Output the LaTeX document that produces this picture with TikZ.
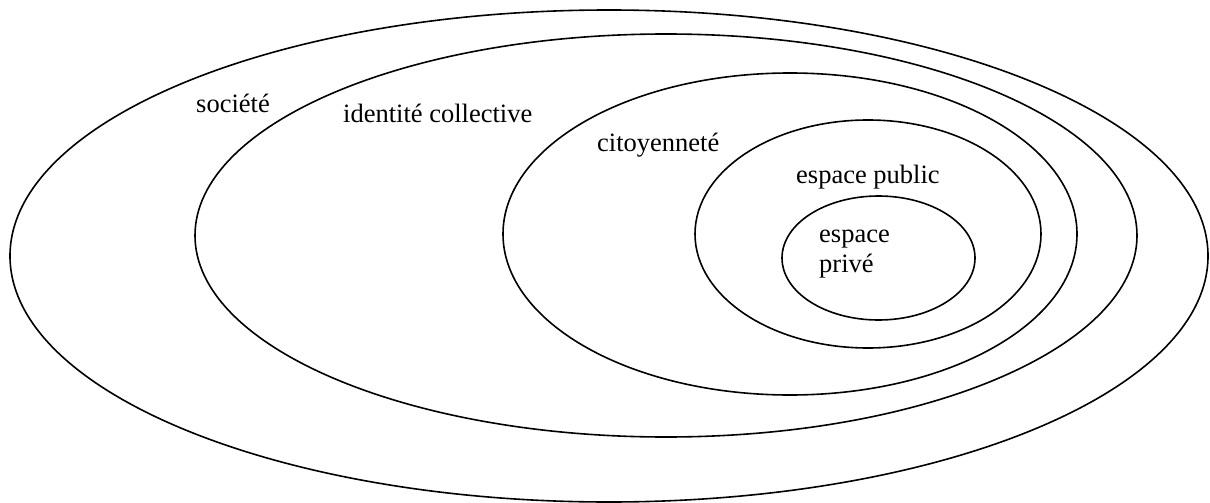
\documentclass[tikz,border=0pt]{standalone}
\usepackage{fontspec}
\setmainfont{Liberation Serif}
\tikzset{ring/.style={draw, line width=1.6pt},
  lbl/.style={anchor=base west, inner sep=0pt, font=\fontsize{26.5}{30}\selectfont}}

\begin{document}
\begin{tikzpicture}[x=1pt, y=-1pt]
    \useasboundingbox (0,0) rectangle (1210,503);

    \draw[ring] (609, 256) ellipse [x radius=599, y radius=246];
    \draw[ring] (666, 235.5) ellipse [x radius=471, y radius=201.5];
    \draw[ring] (790, 234) ellipse [x radius=287, y radius=161];
    \draw[ring] (868, 234) ellipse [x radius=173, y radius=114];
    \draw[ring] (878.5, 258) ellipse [x radius=96.5, y radius=62];

    \node at (196, 112) (societe) [lbl] {société};
    \node at (343, 122) (identite) [lbl] {identité collective};
    \node at (597, 151) (citoyen) [lbl] {citoyenneté};
    \node at (796, 183) (public) [lbl] {espace public};
    \node at (819, 242) (prive) [lbl] {espace};
    \node at (819, 272) (prive2) [lbl] {privé};
\end{tikzpicture}
\end{document}
